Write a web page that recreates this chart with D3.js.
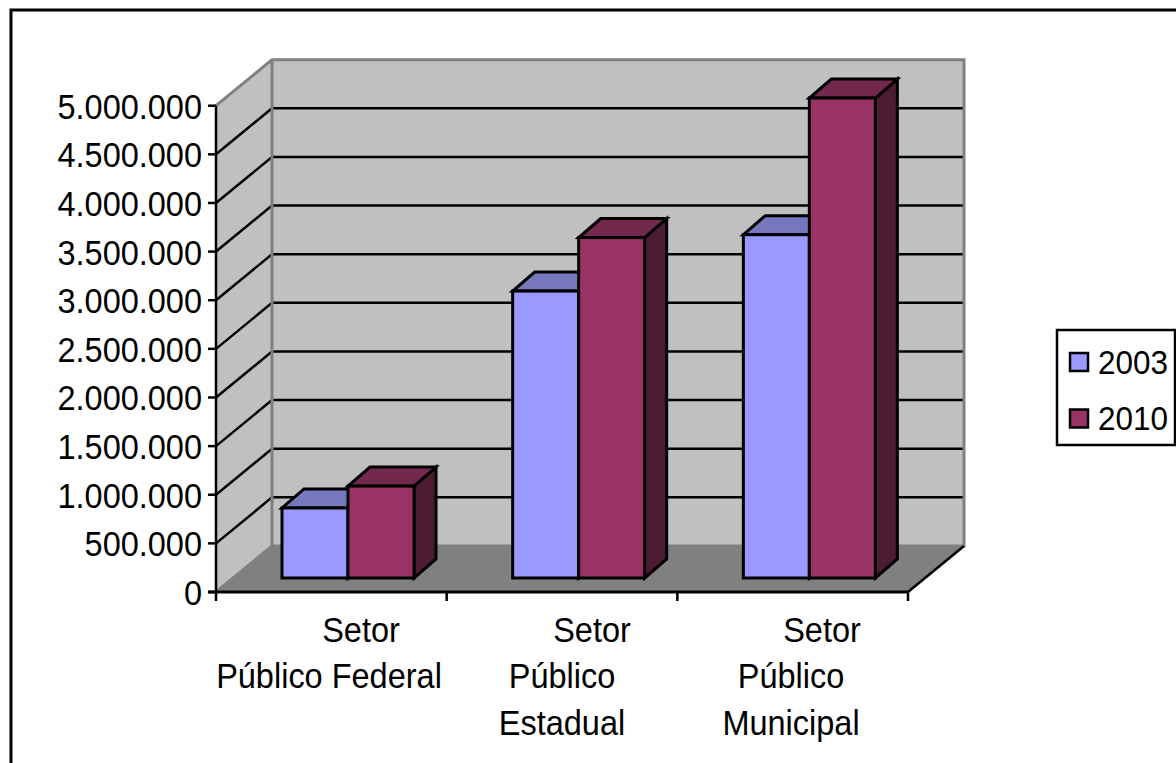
<!DOCTYPE html>
<html><head><meta charset="utf-8">
<script src="https://cdnjs.cloudflare.com/ajax/libs/d3/7.8.5/d3.min.js"></script>
<style>html,body{margin:0;padding:0;background:#fff}svg{display:block}text{font-family:"Liberation Sans",Arial,sans-serif;fill:#000}</style>
</head><body><svg id="c" width="1176" height="763"></svg>
<script>
const categories=["Setor Público Federal","Setor Público Estadual","Setor Público Municipal"];
const categoryLines=[["Setor","Público Federal"],["Setor","Público","Estadual"],["Setor","Público","Municipal"]];
const seriesNames=["2003","2010"];
const values2003=[720000,2950000,3530000];
const values2010=[945000,3500000,4935000];
const tickValues=[0,500000,1000000,1500000,2000000,2500000,3000000,3500000,4000000,4500000,5000000];
const seriesFront=["#9999ff","#993366"];
const seriesTop=["#7777bd","#73284d"];
const seriesSide=["#4a4a80","#4d1c33"];

const svg=d3.select("#c");
const x=d3.scaleBand().domain(categories).range([216,908]);
const inner=d3.scaleBand().domain(seriesNames).range([66,198]);
const y=d3.scaleLinear().domain([0,5000000]).range([592,105.7]);
const wall={dx:56,dy:-46}, barD={dy:-14}, cube={dx:22,dy:-19};
const fmt=v=>d3.format(",")(v).replace(/,/g,".");
const pts=a=>a.map(p=>p.join(",")).join(" ");
const stretch=1.07;
const label=(px,py,t,anchor,size)=>svg.append("text")
  .attr("transform",`translate(${px},${py}) scale(1,${stretch})`)
  .attr("text-anchor",anchor).attr("font-size",size).text(t);

svg.append("rect").attr("x",11).attr("y",10).attr("width",1175).attr("height",770).attr("fill","#fff").attr("stroke","#000").attr("stroke-width",3);

const xl=x.range()[0], xr=x.range()[1], y0=y(0), yt=y(5000000);
svg.append("polygon").attr("points",pts([[xl,y0],[xl+wall.dx,y0+wall.dy],[xl+wall.dx,yt+wall.dy],[xl,yt]])).attr("fill","#c0c0c0");
svg.append("polygon").attr("points",pts([[xl+wall.dx,y0+wall.dy],[xr+wall.dx,y0+wall.dy],[xr+wall.dx,yt+wall.dy],[xl+wall.dx,yt+wall.dy]])).attr("fill","#c0c0c0");
svg.append("polygon").attr("points",pts([[xl,y0],[xr,y0],[xr+wall.dx,y0+wall.dy],[xl+wall.dx,y0+wall.dy]])).attr("fill","#808080");

tickValues.forEach(v=>{
  if(v>0&&v<5000000) svg.append("polyline").attr("points",pts([[xl,y(v)],[xl+wall.dx,y(v)+wall.dy],[xr+wall.dx-1,y(v)+wall.dy]])).attr("fill","none").attr("stroke","#000").attr("stroke-width",2.5);
});
svg.append("polyline").attr("points",pts([[xl,yt],[xl+wall.dx,yt+wall.dy],[xr+wall.dx,yt+wall.dy],[xr+wall.dx,y0+wall.dy],[xl+wall.dx,y0+wall.dy],[xl,y0]])).attr("fill","none").attr("stroke","#808080").attr("stroke-width",3);
svg.append("line").attr("x1",xl+wall.dx).attr("x2",xl+wall.dx).attr("y1",yt+wall.dy).attr("y2",y0+wall.dy).attr("stroke","#808080").attr("stroke-width",3);
svg.append("line").attr("x1",xr).attr("y1",y0).attr("x2",xr+wall.dx).attr("y2",y0+wall.dy).attr("stroke","#000").attr("stroke-width",2.5);

[values2003,values2010].forEach((vals,s)=>{
  vals.forEach((v,i)=>{
    const x0=x(categories[i])+inner(seriesNames[s]), w=inner.bandwidth();
    const b=y(0)+barD.dy, t=y(v)+barD.dy;
    const g=svg.append("g").attr("stroke","#000").attr("stroke-width",3).attr("stroke-linejoin","miter");
    g.append("polygon").attr("points",pts([[x0+w,b],[x0+w+cube.dx,b+cube.dy],[x0+w+cube.dx,t+cube.dy],[x0+w,t]])).attr("fill",seriesSide[s]);
    g.append("polygon").attr("points",pts([[x0,t],[x0+w,t],[x0+w+cube.dx,t+cube.dy],[x0+cube.dx,t+cube.dy]])).attr("fill",seriesTop[s]);
    g.append("rect").attr("x",x0).attr("y",t).attr("width",w).attr("height",b-t).attr("fill",seriesFront[s]);
  });
});

svg.append("line").attr("x1",xl).attr("x2",xl).attr("y1",yt).attr("y2",y0).attr("stroke","#000").attr("stroke-width",2.5);
svg.append("line").attr("x1",xl-8).attr("x2",xr).attr("y1",y0).attr("y2",y0).attr("stroke","#000").attr("stroke-width",3);
tickValues.forEach(v=>{
  svg.append("line").attr("x1",xl-8).attr("x2",xl).attr("y1",y(v)).attr("y2",y(v)).attr("stroke","#000").attr("stroke-width",2.5);
  label(202,y(v)+13,fmt(v),"end",32.5);
});
x.domain().concat(["end"]).forEach((c,i)=>{
  const px=xl+i*x.bandwidth();
  svg.append("line").attr("x1",px).attr("x2",px).attr("y1",y0).attr("y2",y0+9).attr("stroke","#000").attr("stroke-width",2.5);
});

const lineAnchors=[[361,329],[592,562,562],[822,791,791]];
const lineY=[642,688,735];
categoryLines.forEach((ls,i)=>ls.forEach((t,j)=>label(lineAnchors[i][j],lineY[j],t,"middle",32.5)));

svg.append("rect").attr("x",1057).attr("y",330).attr("width",118).attr("height",115).attr("fill","#fff").attr("stroke","#000").attr("stroke-width",2.5);
seriesNames.forEach((n,i)=>{
  const cy=[362,418.5][i];
  svg.append("rect").attr("x",1070).attr("y",cy-9).attr("width",18).attr("height",18).attr("fill",seriesFront[i]).attr("stroke","#000").attr("stroke-width",2.5);
  label(1098,cy+11.5,n,"start",31.5);
});
</script></body></html>
